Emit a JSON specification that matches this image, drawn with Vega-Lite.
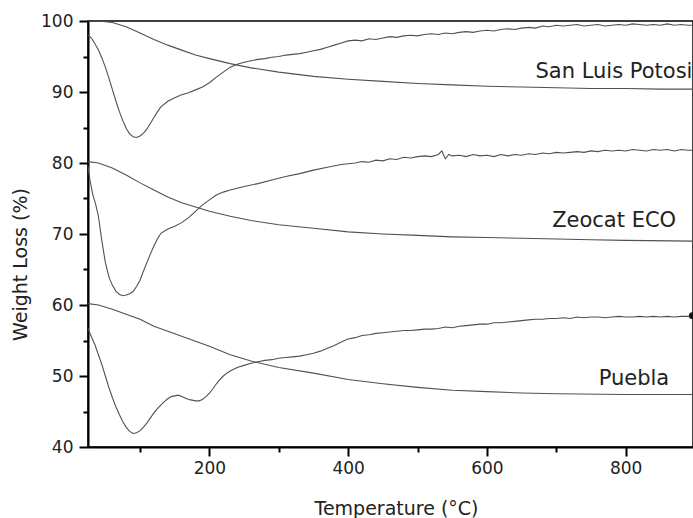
{
  "$schema": "https://vega.github.io/schema/vega-lite/v6.json",
  "width": 605,
  "height": 426,
  "autosize": {"type": "none"},
  "padding": {"left": 88, "top": 21, "right": 0, "bottom": 71},
  "background": "white",
  "config": {
    "view": {"stroke": "#000", "strokeWidth": 1.5},
    "font": "DejaVu Sans",
    "axis": {
      "domainColor": "#000", "domainWidth": 2, "tickColor": "#000", "tickWidth": 2,
      "grid": false, "labelColor": "#222", "titleColor": "#222",
      "labelFont": "DejaVu Sans", "titleFont": "DejaVu Sans", "titleFontWeight": "normal"
    }
  },
  "datasets": {
    "curves": [
      {"s":"slp_tga","T":25,"w":100},{"s":"slp_tga","T":40,"w":100},{"s":"slp_tga","T":60,"w":99.8},{"s":"slp_tga","T":80,"w":99.2},{"s":"slp_tga","T":100,"w":98.3},{"s":"slp_tga","T":120,"w":97.4},{"s":"slp_tga","T":140,"w":96.6},{"s":"slp_tga","T":160,"w":95.9},{"s":"slp_tga","T":180,"w":95.2},{"s":"slp_tga","T":200,"w":94.7},{"s":"slp_tga","T":230,"w":94.0},{"s":"slp_tga","T":260,"w":93.4},{"s":"slp_tga","T":300,"w":92.8},{"s":"slp_tga","T":350,"w":92.2},{"s":"slp_tga","T":400,"w":91.8},{"s":"slp_tga","T":450,"w":91.5},{"s":"slp_tga","T":500,"w":91.2},{"s":"slp_tga","T":550,"w":91.0},{"s":"slp_tga","T":600,"w":90.8},{"s":"slp_tga","T":650,"w":90.7},{"s":"slp_tga","T":700,"w":90.6},{"s":"slp_tga","T":750,"w":90.5},{"s":"slp_tga","T":800,"w":90.5},{"s":"slp_tga","T":850,"w":90.4},{"s":"slp_tga","T":897,"w":90.4},

      {"s":"slp_dtg","T":25,"w":98.0},{"s":"slp_dtg","T":30,"w":97.6},{"s":"slp_dtg","T":35,"w":96.8},{"s":"slp_dtg","T":40,"w":95.9},{"s":"slp_dtg","T":45,"w":94.8},{"s":"slp_dtg","T":50,"w":93.5},{"s":"slp_dtg","T":55,"w":92.0},{"s":"slp_dtg","T":60,"w":90.4},{"s":"slp_dtg","T":65,"w":88.8},{"s":"slp_dtg","T":70,"w":87.3},{"s":"slp_dtg","T":75,"w":86.0},{"s":"slp_dtg","T":80,"w":84.9},{"s":"slp_dtg","T":85,"w":84.1},{"s":"slp_dtg","T":90,"w":83.7},{"s":"slp_dtg","T":95,"w":83.6},{"s":"slp_dtg","T":100,"w":83.8},{"s":"slp_dtg","T":105,"w":84.2},{"s":"slp_dtg","T":110,"w":84.8},{"s":"slp_dtg","T":115,"w":85.6},{"s":"slp_dtg","T":120,"w":86.4},{"s":"slp_dtg","T":125,"w":87.2},{"s":"slp_dtg","T":130,"w":87.9},{"s":"slp_dtg","T":140,"w":88.7},{"s":"slp_dtg","T":150,"w":89.2},{"s":"slp_dtg","T":160,"w":89.6},{"s":"slp_dtg","T":170,"w":89.9},{"s":"slp_dtg","T":180,"w":90.3},{"s":"slp_dtg","T":190,"w":90.7},{"s":"slp_dtg","T":200,"w":91.3},{"s":"slp_dtg","T":210,"w":92.1},{"s":"slp_dtg","T":220,"w":92.8},{"s":"slp_dtg","T":230,"w":93.5},{"s":"slp_dtg","T":240,"w":93.9},{"s":"slp_dtg","T":250,"w":94.2},{"s":"slp_dtg","T":260,"w":94.4},{"s":"slp_dtg","T":270,"w":94.6},{"s":"slp_dtg","T":280,"w":94.7},{"s":"slp_dtg","T":290,"w":94.9},{"s":"slp_dtg","T":300,"w":95.0},{"s":"slp_dtg","T":310,"w":95.2},{"s":"slp_dtg","T":320,"w":95.3},{"s":"slp_dtg","T":330,"w":95.4},{"s":"slp_dtg","T":340,"w":95.6},{"s":"slp_dtg","T":350,"w":95.8},{"s":"slp_dtg","T":360,"w":96.0},{"s":"slp_dtg","T":370,"w":96.3},{"s":"slp_dtg","T":380,"w":96.6},{"s":"slp_dtg","T":390,"w":96.9},{"s":"slp_dtg","T":400,"w":97.2},{"s":"slp_dtg","T":410,"w":97.3},{"s":"slp_dtg","T":420,"w":97.2},{"s":"slp_dtg","T":430,"w":97.5},{"s":"slp_dtg","T":440,"w":97.4},{"s":"slp_dtg","T":450,"w":97.6},{"s":"slp_dtg","T":460,"w":97.8},{"s":"slp_dtg","T":470,"w":97.7},{"s":"slp_dtg","T":480,"w":97.9},{"s":"slp_dtg","T":490,"w":98.0},{"s":"slp_dtg","T":500,"w":97.9},{"s":"slp_dtg","T":510,"w":98.1},{"s":"slp_dtg","T":520,"w":98.2},{"s":"slp_dtg","T":530,"w":98.1},{"s":"slp_dtg","T":540,"w":98.3},{"s":"slp_dtg","T":550,"w":98.2},{"s":"slp_dtg","T":560,"w":98.4},{"s":"slp_dtg","T":570,"w":98.5},{"s":"slp_dtg","T":580,"w":98.4},{"s":"slp_dtg","T":590,"w":98.6},{"s":"slp_dtg","T":600,"w":98.7},{"s":"slp_dtg","T":610,"w":98.6},{"s":"slp_dtg","T":620,"w":98.8},{"s":"slp_dtg","T":630,"w":98.9},{"s":"slp_dtg","T":640,"w":98.8},{"s":"slp_dtg","T":650,"w":99.0},{"s":"slp_dtg","T":660,"w":99.1},{"s":"slp_dtg","T":670,"w":99.0},{"s":"slp_dtg","T":680,"w":99.3},{"s":"slp_dtg","T":690,"w":99.2},{"s":"slp_dtg","T":700,"w":99.4},{"s":"slp_dtg","T":710,"w":99.3},{"s":"slp_dtg","T":720,"w":99.4},{"s":"slp_dtg","T":730,"w":99.5},{"s":"slp_dtg","T":740,"w":99.3},{"s":"slp_dtg","T":750,"w":99.4},{"s":"slp_dtg","T":760,"w":99.5},{"s":"slp_dtg","T":770,"w":99.3},{"s":"slp_dtg","T":780,"w":99.4},{"s":"slp_dtg","T":790,"w":99.5},{"s":"slp_dtg","T":800,"w":99.4},{"s":"slp_dtg","T":810,"w":99.6},{"s":"slp_dtg","T":820,"w":99.5},{"s":"slp_dtg","T":830,"w":99.4},{"s":"slp_dtg","T":840,"w":99.5},{"s":"slp_dtg","T":850,"w":99.4},{"s":"slp_dtg","T":860,"w":99.6},{"s":"slp_dtg","T":870,"w":99.4},{"s":"slp_dtg","T":880,"w":99.5},{"s":"slp_dtg","T":890,"w":99.4},{"s":"slp_dtg","T":897,"w":99.4},

      {"s":"zeo_tga","T":25,"w":80.2},{"s":"zeo_tga","T":40,"w":80.0},{"s":"zeo_tga","T":60,"w":79.3},{"s":"zeo_tga","T":80,"w":78.3},{"s":"zeo_tga","T":100,"w":77.2},{"s":"zeo_tga","T":120,"w":76.2},{"s":"zeo_tga","T":140,"w":75.2},{"s":"zeo_tga","T":160,"w":74.4},{"s":"zeo_tga","T":180,"w":73.8},{"s":"zeo_tga","T":200,"w":73.2},{"s":"zeo_tga","T":230,"w":72.5},{"s":"zeo_tga","T":260,"w":71.9},{"s":"zeo_tga","T":300,"w":71.3},{"s":"zeo_tga","T":350,"w":70.8},{"s":"zeo_tga","T":400,"w":70.3},{"s":"zeo_tga","T":450,"w":70.0},{"s":"zeo_tga","T":500,"w":69.8},{"s":"zeo_tga","T":550,"w":69.6},{"s":"zeo_tga","T":600,"w":69.5},{"s":"zeo_tga","T":650,"w":69.4},{"s":"zeo_tga","T":700,"w":69.3},{"s":"zeo_tga","T":750,"w":69.2},{"s":"zeo_tga","T":800,"w":69.1},{"s":"zeo_tga","T":897,"w":69.0},

      {"s":"zeo_dtg","T":25,"w":79.5},{"s":"zeo_dtg","T":28,"w":77.5},{"s":"zeo_dtg","T":32,"w":75.5},{"s":"zeo_dtg","T":36,"w":74.2},{"s":"zeo_dtg","T":40,"w":72.5},{"s":"zeo_dtg","T":45,"w":69.0},{"s":"zeo_dtg","T":50,"w":66.0},{"s":"zeo_dtg","T":55,"w":64.0},{"s":"zeo_dtg","T":60,"w":62.8},{"s":"zeo_dtg","T":65,"w":62.0},{"s":"zeo_dtg","T":70,"w":61.5},{"s":"zeo_dtg","T":75,"w":61.3},{"s":"zeo_dtg","T":80,"w":61.4},{"s":"zeo_dtg","T":85,"w":61.6},{"s":"zeo_dtg","T":90,"w":61.9},{"s":"zeo_dtg","T":95,"w":62.6},{"s":"zeo_dtg","T":100,"w":63.5},{"s":"zeo_dtg","T":105,"w":64.8},{"s":"zeo_dtg","T":110,"w":66.0},{"s":"zeo_dtg","T":115,"w":67.2},{"s":"zeo_dtg","T":120,"w":68.3},{"s":"zeo_dtg","T":125,"w":69.3},{"s":"zeo_dtg","T":130,"w":70.1},{"s":"zeo_dtg","T":140,"w":70.7},{"s":"zeo_dtg","T":150,"w":71.1},{"s":"zeo_dtg","T":160,"w":71.6},{"s":"zeo_dtg","T":170,"w":72.3},{"s":"zeo_dtg","T":180,"w":73.2},{"s":"zeo_dtg","T":190,"w":74.1},{"s":"zeo_dtg","T":200,"w":74.8},{"s":"zeo_dtg","T":210,"w":75.5},{"s":"zeo_dtg","T":220,"w":75.9},{"s":"zeo_dtg","T":230,"w":76.2},{"s":"zeo_dtg","T":250,"w":76.7},{"s":"zeo_dtg","T":270,"w":77.1},{"s":"zeo_dtg","T":290,"w":77.6},{"s":"zeo_dtg","T":310,"w":78.1},{"s":"zeo_dtg","T":330,"w":78.5},{"s":"zeo_dtg","T":350,"w":79.0},{"s":"zeo_dtg","T":370,"w":79.4},{"s":"zeo_dtg","T":390,"w":79.8},{"s":"zeo_dtg","T":400,"w":79.9},{"s":"zeo_dtg","T":410,"w":80.0},{"s":"zeo_dtg","T":420,"w":80.2},{"s":"zeo_dtg","T":430,"w":80.1},{"s":"zeo_dtg","T":440,"w":80.4},{"s":"zeo_dtg","T":450,"w":80.3},{"s":"zeo_dtg","T":460,"w":80.6},{"s":"zeo_dtg","T":470,"w":80.5},{"s":"zeo_dtg","T":480,"w":80.8},{"s":"zeo_dtg","T":490,"w":80.7},{"s":"zeo_dtg","T":500,"w":80.9},{"s":"zeo_dtg","T":510,"w":81.0},{"s":"zeo_dtg","T":520,"w":80.9},{"s":"zeo_dtg","T":530,"w":81.2},{"s":"zeo_dtg","T":535,"w":81.7},{"s":"zeo_dtg","T":540,"w":80.6},{"s":"zeo_dtg","T":545,"w":81.2},{"s":"zeo_dtg","T":550,"w":81.0},{"s":"zeo_dtg","T":560,"w":81.1},{"s":"zeo_dtg","T":570,"w":80.9},{"s":"zeo_dtg","T":580,"w":81.2},{"s":"zeo_dtg","T":590,"w":81.0},{"s":"zeo_dtg","T":600,"w":81.1},{"s":"zeo_dtg","T":610,"w":80.9},{"s":"zeo_dtg","T":620,"w":81.2},{"s":"zeo_dtg","T":630,"w":81.0},{"s":"zeo_dtg","T":640,"w":81.2},{"s":"zeo_dtg","T":650,"w":81.1},{"s":"zeo_dtg","T":660,"w":81.3},{"s":"zeo_dtg","T":670,"w":81.2},{"s":"zeo_dtg","T":680,"w":81.4},{"s":"zeo_dtg","T":690,"w":81.3},{"s":"zeo_dtg","T":700,"w":81.5},{"s":"zeo_dtg","T":710,"w":81.4},{"s":"zeo_dtg","T":720,"w":81.5},{"s":"zeo_dtg","T":730,"w":81.6},{"s":"zeo_dtg","T":740,"w":81.5},{"s":"zeo_dtg","T":750,"w":81.7},{"s":"zeo_dtg","T":760,"w":81.6},{"s":"zeo_dtg","T":770,"w":81.8},{"s":"zeo_dtg","T":780,"w":81.7},{"s":"zeo_dtg","T":790,"w":81.8},{"s":"zeo_dtg","T":800,"w":81.7},{"s":"zeo_dtg","T":810,"w":81.9},{"s":"zeo_dtg","T":820,"w":81.8},{"s":"zeo_dtg","T":830,"w":81.7},{"s":"zeo_dtg","T":840,"w":81.9},{"s":"zeo_dtg","T":850,"w":81.8},{"s":"zeo_dtg","T":860,"w":81.9},{"s":"zeo_dtg","T":870,"w":81.7},{"s":"zeo_dtg","T":880,"w":81.9},{"s":"zeo_dtg","T":890,"w":81.8},{"s":"zeo_dtg","T":897,"w":81.8},

      {"s":"pue_tga","T":25,"w":60.2},{"s":"pue_tga","T":40,"w":60.0},{"s":"pue_tga","T":60,"w":59.4},{"s":"pue_tga","T":80,"w":58.7},{"s":"pue_tga","T":100,"w":58.0},{"s":"pue_tga","T":120,"w":57.0},{"s":"pue_tga","T":140,"w":56.3},{"s":"pue_tga","T":160,"w":55.6},{"s":"pue_tga","T":180,"w":54.9},{"s":"pue_tga","T":200,"w":54.2},{"s":"pue_tga","T":230,"w":53.0},{"s":"pue_tga","T":260,"w":52.1},{"s":"pue_tga","T":300,"w":51.2},{"s":"pue_tga","T":350,"w":50.4},{"s":"pue_tga","T":400,"w":49.5},{"s":"pue_tga","T":450,"w":48.9},{"s":"pue_tga","T":500,"w":48.4},{"s":"pue_tga","T":550,"w":48.0},{"s":"pue_tga","T":600,"w":47.8},{"s":"pue_tga","T":650,"w":47.6},{"s":"pue_tga","T":700,"w":47.5},{"s":"pue_tga","T":800,"w":47.4},{"s":"pue_tga","T":897,"w":47.4},

      {"s":"pue_dtg","T":25,"w":56.7},{"s":"pue_dtg","T":30,"w":55.5},{"s":"pue_dtg","T":35,"w":54.4},{"s":"pue_dtg","T":40,"w":53.0},{"s":"pue_dtg","T":45,"w":51.6},{"s":"pue_dtg","T":50,"w":50.0},{"s":"pue_dtg","T":55,"w":48.4},{"s":"pue_dtg","T":60,"w":47.0},{"s":"pue_dtg","T":65,"w":45.7},{"s":"pue_dtg","T":70,"w":44.6},{"s":"pue_dtg","T":75,"w":43.6},{"s":"pue_dtg","T":80,"w":42.8},{"s":"pue_dtg","T":85,"w":42.2},{"s":"pue_dtg","T":90,"w":41.9},{"s":"pue_dtg","T":95,"w":42.0},{"s":"pue_dtg","T":100,"w":42.3},{"s":"pue_dtg","T":105,"w":42.8},{"s":"pue_dtg","T":110,"w":43.4},{"s":"pue_dtg","T":115,"w":44.1},{"s":"pue_dtg","T":120,"w":44.8},{"s":"pue_dtg","T":125,"w":45.4},{"s":"pue_dtg","T":130,"w":45.9},{"s":"pue_dtg","T":135,"w":46.4},{"s":"pue_dtg","T":140,"w":46.8},{"s":"pue_dtg","T":145,"w":47.1},{"s":"pue_dtg","T":150,"w":47.2},{"s":"pue_dtg","T":155,"w":47.3},{"s":"pue_dtg","T":160,"w":47.1},{"s":"pue_dtg","T":165,"w":46.9},{"s":"pue_dtg","T":170,"w":46.7},{"s":"pue_dtg","T":175,"w":46.6},{"s":"pue_dtg","T":180,"w":46.5},{"s":"pue_dtg","T":185,"w":46.5},{"s":"pue_dtg","T":190,"w":46.7},{"s":"pue_dtg","T":195,"w":47.1},{"s":"pue_dtg","T":200,"w":47.6},{"s":"pue_dtg","T":205,"w":48.2},{"s":"pue_dtg","T":210,"w":48.9},{"s":"pue_dtg","T":215,"w":49.5},{"s":"pue_dtg","T":220,"w":50.0},{"s":"pue_dtg","T":225,"w":50.4},{"s":"pue_dtg","T":230,"w":50.7},{"s":"pue_dtg","T":240,"w":51.2},{"s":"pue_dtg","T":250,"w":51.5},{"s":"pue_dtg","T":260,"w":51.8},{"s":"pue_dtg","T":270,"w":52.0},{"s":"pue_dtg","T":280,"w":52.2},{"s":"pue_dtg","T":290,"w":52.3},{"s":"pue_dtg","T":300,"w":52.5},{"s":"pue_dtg","T":310,"w":52.6},{"s":"pue_dtg","T":320,"w":52.7},{"s":"pue_dtg","T":330,"w":52.8},{"s":"pue_dtg","T":340,"w":53.0},{"s":"pue_dtg","T":350,"w":53.2},{"s":"pue_dtg","T":360,"w":53.5},{"s":"pue_dtg","T":370,"w":53.9},{"s":"pue_dtg","T":380,"w":54.3},{"s":"pue_dtg","T":390,"w":54.8},{"s":"pue_dtg","T":400,"w":55.2},{"s":"pue_dtg","T":410,"w":55.4},{"s":"pue_dtg","T":420,"w":55.7},{"s":"pue_dtg","T":430,"w":55.8},{"s":"pue_dtg","T":440,"w":56.0},{"s":"pue_dtg","T":450,"w":56.1},{"s":"pue_dtg","T":460,"w":56.2},{"s":"pue_dtg","T":470,"w":56.3},{"s":"pue_dtg","T":480,"w":56.4},{"s":"pue_dtg","T":490,"w":56.4},{"s":"pue_dtg","T":500,"w":56.5},{"s":"pue_dtg","T":510,"w":56.6},{"s":"pue_dtg","T":520,"w":56.6},{"s":"pue_dtg","T":530,"w":56.7},{"s":"pue_dtg","T":540,"w":56.9},{"s":"pue_dtg","T":550,"w":56.8},{"s":"pue_dtg","T":560,"w":57.0},{"s":"pue_dtg","T":570,"w":57.1},{"s":"pue_dtg","T":580,"w":57.2},{"s":"pue_dtg","T":590,"w":57.3},{"s":"pue_dtg","T":600,"w":57.3},{"s":"pue_dtg","T":610,"w":57.5},{"s":"pue_dtg","T":620,"w":57.5},{"s":"pue_dtg","T":630,"w":57.6},{"s":"pue_dtg","T":640,"w":57.7},{"s":"pue_dtg","T":650,"w":57.8},{"s":"pue_dtg","T":660,"w":57.9},{"s":"pue_dtg","T":670,"w":58.0},{"s":"pue_dtg","T":680,"w":58.0},{"s":"pue_dtg","T":690,"w":58.1},{"s":"pue_dtg","T":700,"w":58.1},{"s":"pue_dtg","T":710,"w":58.2},{"s":"pue_dtg","T":720,"w":58.1},{"s":"pue_dtg","T":730,"w":58.3},{"s":"pue_dtg","T":740,"w":58.2},{"s":"pue_dtg","T":750,"w":58.3},{"s":"pue_dtg","T":760,"w":58.3},{"s":"pue_dtg","T":770,"w":58.2},{"s":"pue_dtg","T":780,"w":58.3},{"s":"pue_dtg","T":790,"w":58.4},{"s":"pue_dtg","T":800,"w":58.3},{"s":"pue_dtg","T":810,"w":58.3},{"s":"pue_dtg","T":820,"w":58.4},{"s":"pue_dtg","T":830,"w":58.3},{"s":"pue_dtg","T":840,"w":58.4},{"s":"pue_dtg","T":850,"w":58.3},{"s":"pue_dtg","T":860,"w":58.4},{"s":"pue_dtg","T":870,"w":58.3},{"s":"pue_dtg","T":880,"w":58.4},{"s":"pue_dtg","T":890,"w":58.4},{"s":"pue_dtg","T":897,"w":58.5}
    ],
    "labels": [
      {"T": 670, "w": 92.8, "label": "San Luis Potosi"},
      {"T": 694, "w": 71.9, "label": "Zeocat ECO"},
      {"T": 761, "w": 49.6, "label": "Puebla"}
    ],
    "dots": [
      {"T": 896, "w": 58.5}
    ]
  },
  "layer": [
    {
      "data": {"name": "curves"},
      "mark": {"type": "line", "color": "#505050", "strokeWidth": 1.1, "clip": true},
      "encoding": {
        "x": {
          "field": "T", "type": "quantitative",
          "scale": {"domain": [25, 897], "nice": false, "zero": false},
          "axis": {
            "values": [200, 400, 600, 800], "tickSize": 9, "labelFontSize": 17, "labelPadding": 4,
            "title": "Temperature (°C)", "titleFontSize": 19, "titleX": 308, "titleY": 61,
            "titleBaseline": "middle", "titleAlign": "center"
          }
        },
        "y": {
          "field": "w", "type": "quantitative",
          "scale": {"domain": [40, 100], "nice": false, "zero": false},
          "axis": {
            "values": [40, 50, 60, 70, 80, 90, 100], "tickSize": 9, "labelFontSize": 17, "labelPadding": 6,
            "title": "Weight Loss (%)", "titleFontSize": 19, "titleX": -68, "titleY": 243,
            "titleBaseline": "middle", "titleAlign": "center", "titleAngle": -90
          }
        },
        "detail": {"field": "s", "type": "nominal"},
        "order": {"field": "T", "type": "quantitative"}
      }
    },
    {
      "data": {"name": "labels"},
      "mark": {"type": "text", "align": "left", "baseline": "middle", "fontSize": 21, "font": "DejaVu Sans", "color": "#222"},
      "encoding": {
        "x": {
          "field": "T", "type": "quantitative",
          "scale": {"domain": [25, 897], "nice": false, "zero": false},
          "axis": {"orient": "bottom", "values": [100, 300, 500, 700], "tickSize": 5, "labels": false, "domain": false, "title": null}
        },
        "y": {
          "field": "w", "type": "quantitative",
          "scale": {"domain": [40, 100], "nice": false, "zero": false},
          "axis": {"orient": "left", "values": [45, 55, 65, 75, 85, 95], "tickSize": 5, "labels": false, "domain": false, "title": null}
        },
        "text": {"field": "label", "type": "nominal"}
      }
    },
    {
      "data": {"name": "dots"},
      "mark": {"type": "point", "filled": true, "color": "#111", "size": 45, "opacity": 1},
      "encoding": {
        "x": {"field": "T", "type": "quantitative", "scale": {"domain": [25, 897], "nice": false, "zero": false}, "axis": null},
        "y": {"field": "w", "type": "quantitative", "scale": {"domain": [40, 100], "nice": false, "zero": false}, "axis": null}
      }
    }
  ],
  "resolve": {"axis": {"x": "independent", "y": "independent"}}
}
